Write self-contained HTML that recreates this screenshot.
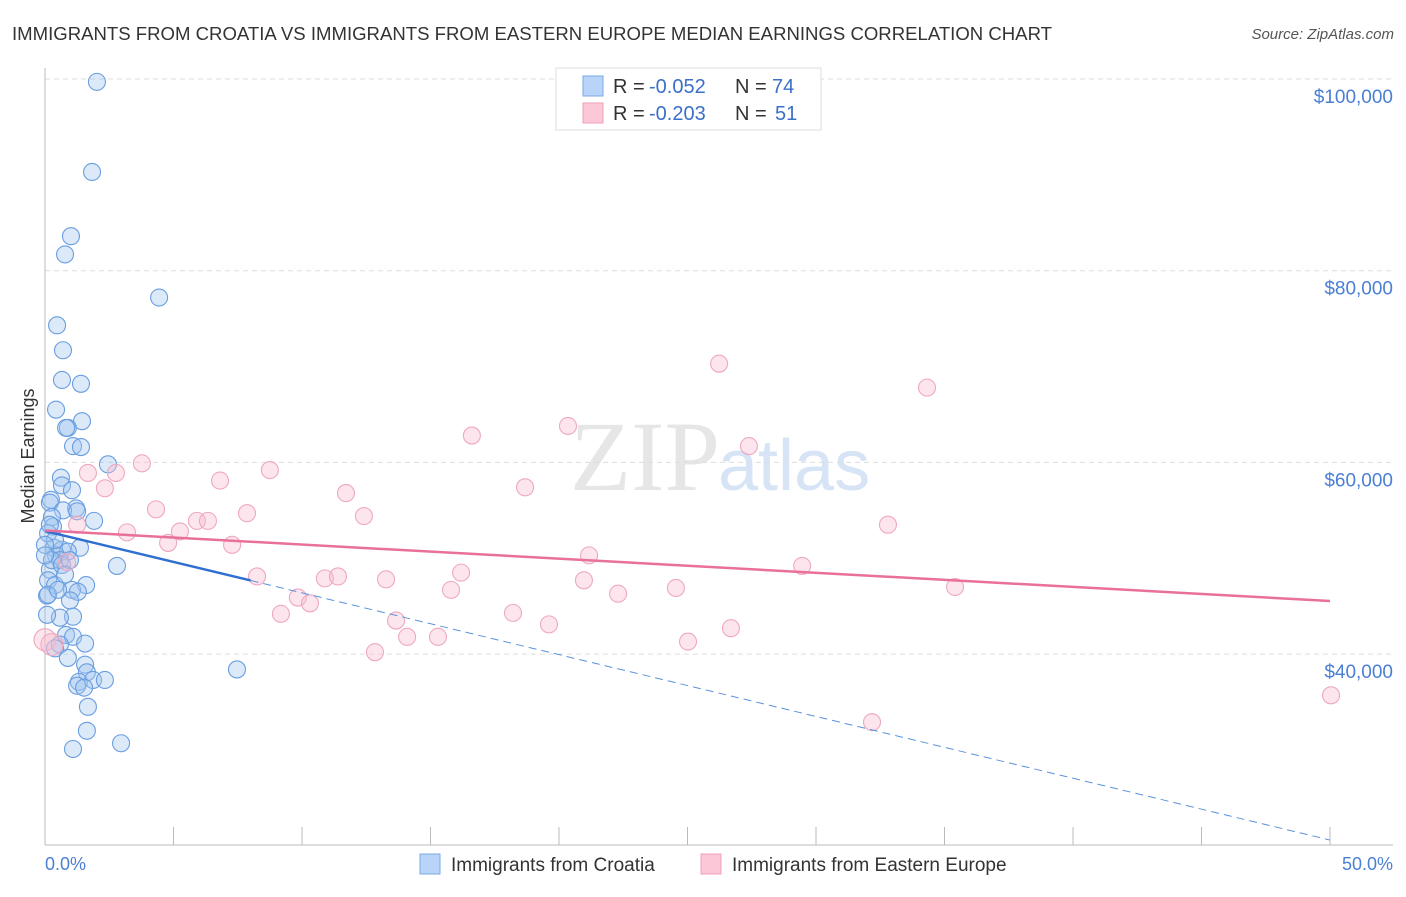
<!DOCTYPE html>
<html><head><meta charset="utf-8"><style>
body{margin:0;background:#fff;font-family:"Liberation Sans",sans-serif}
</style></head><body>
<svg id="chart" width="1406" height="892" xmlns="http://www.w3.org/2000/svg" font-family="Liberation Sans, sans-serif">
<text x="12" y="40" font-size="18" fill="#333" textLength="1040" lengthAdjust="spacingAndGlyphs">IMMIGRANTS FROM CROATIA VS IMMIGRANTS FROM EASTERN EUROPE MEDIAN EARNINGS CORRELATION CHART</text>
<text x="1394" y="39" font-size="15" fill="#555" font-style="italic" text-anchor="end">Source: ZipAtlas.com</text>
<text x="720" y="490" font-size="100" fill="#e6e6e6" text-anchor="end" font-family="Liberation Serif, serif">ZIP</text>
<text x="718" y="490" font-size="72" fill="#d6e4f5">atlas</text>
<g id="grid"></g><g id="axes"></g><g id="pts"></g><g id="lines"></g>
<text transform="translate(34,456) rotate(-90)" font-size="18" fill="#333" text-anchor="middle">Median Earnings</text>
<text x="45" y="870" font-size="18" fill="#4a7fd4">0.0%</text>
<text x="1393" y="870" font-size="18" fill="#4a7fd4" text-anchor="end">50.0%</text>
<g>
<rect x="556" y="68" width="265" height="62" fill="#fff" stroke="#ddd"/>
<rect x="583" y="76" width="20" height="20" fill="#b8d4f8" stroke="#7aa8e6"/>
<rect x="583" y="103" width="20" height="20" fill="#fcc8d8" stroke="#f0a0b8"/>
<text x="613" y="93" font-size="20" fill="#333">R = </text>
<text x="649" y="93" font-size="20" fill="#3a70c8">-0.052</text>
<text x="735" y="93" font-size="20" fill="#333">N = </text>
<text x="772" y="93" font-size="20" fill="#3a70c8">74</text>
<text x="613" y="120" font-size="20" fill="#333">R = </text>
<text x="649" y="120" font-size="20" fill="#3a70c8">-0.203</text>
<text x="735" y="120" font-size="20" fill="#333">N = </text>
<text x="775" y="120" font-size="20" fill="#3a70c8">51</text>
</g>
<g>
<rect x="420" y="854" width="20" height="20" fill="#b8d4f8" stroke="#7aa8e6"/>
<text x="451" y="871" font-size="19" fill="#333">Immigrants from Croatia</text>
<rect x="701" y="854" width="20" height="20" fill="#fcc8d8" stroke="#f0a0b8"/>
<text x="732" y="871" font-size="19" fill="#333">Immigrants from Eastern Europe</text>
</g>
</svg>
<script>
const yTicks=[40000,60000,80000,100000];
const yTickLabels=["$40,000","$60,000","$80,000","$100,000"];
const xTicks=[0,5,10,15,20,25,30,35,40,45,50];
const croatiaX=[2.02,1.83,1.01,0.78,4.44,0.47,0.70,0.66,1.40,0.43,1.44,0.89,0.82,1.09,1.40,2.45,0.62,0.66,1.05,0.23,0.19,1.21,0.70,1.25,1.91,0.27,0.31,0.12,0.35,1.36,0.66,0.89,0.43,0.58,2.80,0.19,0.12,1.60,0.39,1.05,1.28,0.08,0.97,1.09,0.58,0.82,1.09,1.56,0.58,0.39,0.89,1.56,1.63,1.32,1.87,2.33,1.25,1.52,7.47,1.67,1.63,2.96,1.09,0.12,0.27,0.39,0.0,0.19,0.0,0.66,0.97,0.51,0.78,0.08];
const croatiaY=[99.7,90.3,83.6,81.7,77.2,74.3,71.7,68.6,68.2,65.5,64.3,63.6,63.6,61.7,61.6,59.8,58.4,57.6,57.1,56.1,55.8,55.2,55.0,54.9,53.9,54.3,53.3,52.6,51.1,51.1,50.9,50.7,50.3,49.8,49.2,48.8,47.7,47.2,47.2,46.7,46.5,46.1,45.6,43.9,43.8,42.0,41.8,41.1,41.0,40.6,39.6,38.9,38.1,37.1,37.3,37.3,36.7,36.5,38.4,34.5,32.0,30.7,30.1,46.2,49.8,51.9,51.4,53.5,50.3,49.3,49.8,46.7,48.3,44.1];
const eeX=[0.0,0.27,0.86,1.25,1.67,2.33,2.76,3.19,3.77,4.32,4.79,5.25,5.91,6.34,6.81,7.28,7.86,8.25,8.75,9.18,9.84,10.31,10.89,11.40,11.71,12.41,12.84,13.27,13.66,14.09,15.29,15.80,16.19,16.61,18.21,18.68,19.61,20.35,21.17,20.97,22.30,24.55,25.02,26.23,26.69,27.39,29.46,32.18,32.80,34.32,35.41,50.04];
const eeY=[41.5,41.0,49.6,53.5,58.9,57.3,58.9,52.7,59.9,55.1,51.6,52.8,53.9,53.9,58.1,51.4,54.7,48.1,59.2,44.2,45.9,45.3,47.9,48.1,56.8,54.4,40.2,47.8,43.5,41.8,41.8,46.7,48.5,62.8,44.3,57.4,43.1,63.8,50.3,47.7,46.3,46.9,41.3,70.3,42.7,61.7,49.2,32.9,53.5,67.8,47.0,35.7];
const croatiaTrend=[52.84,20.6];
const eeTrend=[52.9,45.54];
const X=v=>45+(v/50)*1285;
const Y=v=>79+(100-v)/20*191.7;
const ns="http://www.w3.org/2000/svg";
function mk(t,a,p){const e=document.createElementNS(ns,t);for(const k in a)e.setAttribute(k,a[k]);p.appendChild(e);return e;}
const grid=document.getElementById('grid'),axes=document.getElementById('axes'),pts=document.getElementById('pts'),lines=document.getElementById('lines');
yTicks.forEach((t,i)=>{
 const l=mk('line',{x1:45,x2:1393,y1:Y(t/1000),y2:Y(t/1000),stroke:'#ddd','stroke-dasharray':'5,4'},grid);
 
 
 const tx=mk('text',{x:1393,y:Y(t/1000)+24,'font-size':19,fill:'#4a7fd4','text-anchor':'end'},grid);
 tx.textContent=yTickLabels[i];
 
 
});
const ax=mk('line',{x1:45,x2:1393,y1:845,y2:845,stroke:'#bbb'},axes);


const ay=mk('line',{x1:45,x2:45,y1:68,y2:845,stroke:'#bbb'},axes);


xTicks.forEach(t=>{
 const l=mk('line',{x1:X(t),x2:X(t),y1:827,y2:845,stroke:'#bbb'},axes);
 
 
});
croatiaX.forEach((x,i)=>{
 const c=mk('circle',{cx:X(x),cy:Y(croatiaY[i]),r:8.5,fill:'rgba(160,196,240,0.38)',stroke:'#6a9ee0','stroke-width':1.1},pts);
 
 
});
eeX.forEach((x,i)=>{
 const c=mk('circle',{cx:X(x),cy:Y(eeY[i]),r:(i<2?11:8.5),fill:'rgba(248,186,204,0.38)',stroke:'#efa8bf','stroke-width':1.1},pts);
 
 
});
const bAt=x=>croatiaTrend[0]+(croatiaTrend[1]-croatiaTrend[0])*x/50;
const l1=mk('line',{x1:X(0),y1:Y(bAt(0)),x2:X(8),y2:Y(bAt(8)),stroke:'#2f6fd0','stroke-width':2.5},lines);


const l2=mk('line',{x1:X(8),y1:Y(bAt(8)),x2:X(50),y2:Y(bAt(50)),stroke:'#5b93dc','stroke-width':1,'stroke-dasharray':'8,5'},lines);


const l3=mk('line',{x1:X(0),y1:Y(eeTrend[0]),x2:X(50),y2:Y(eeTrend[1]),stroke:'#e8709a','stroke-width':2.5},lines);


</script>
</body></html>
